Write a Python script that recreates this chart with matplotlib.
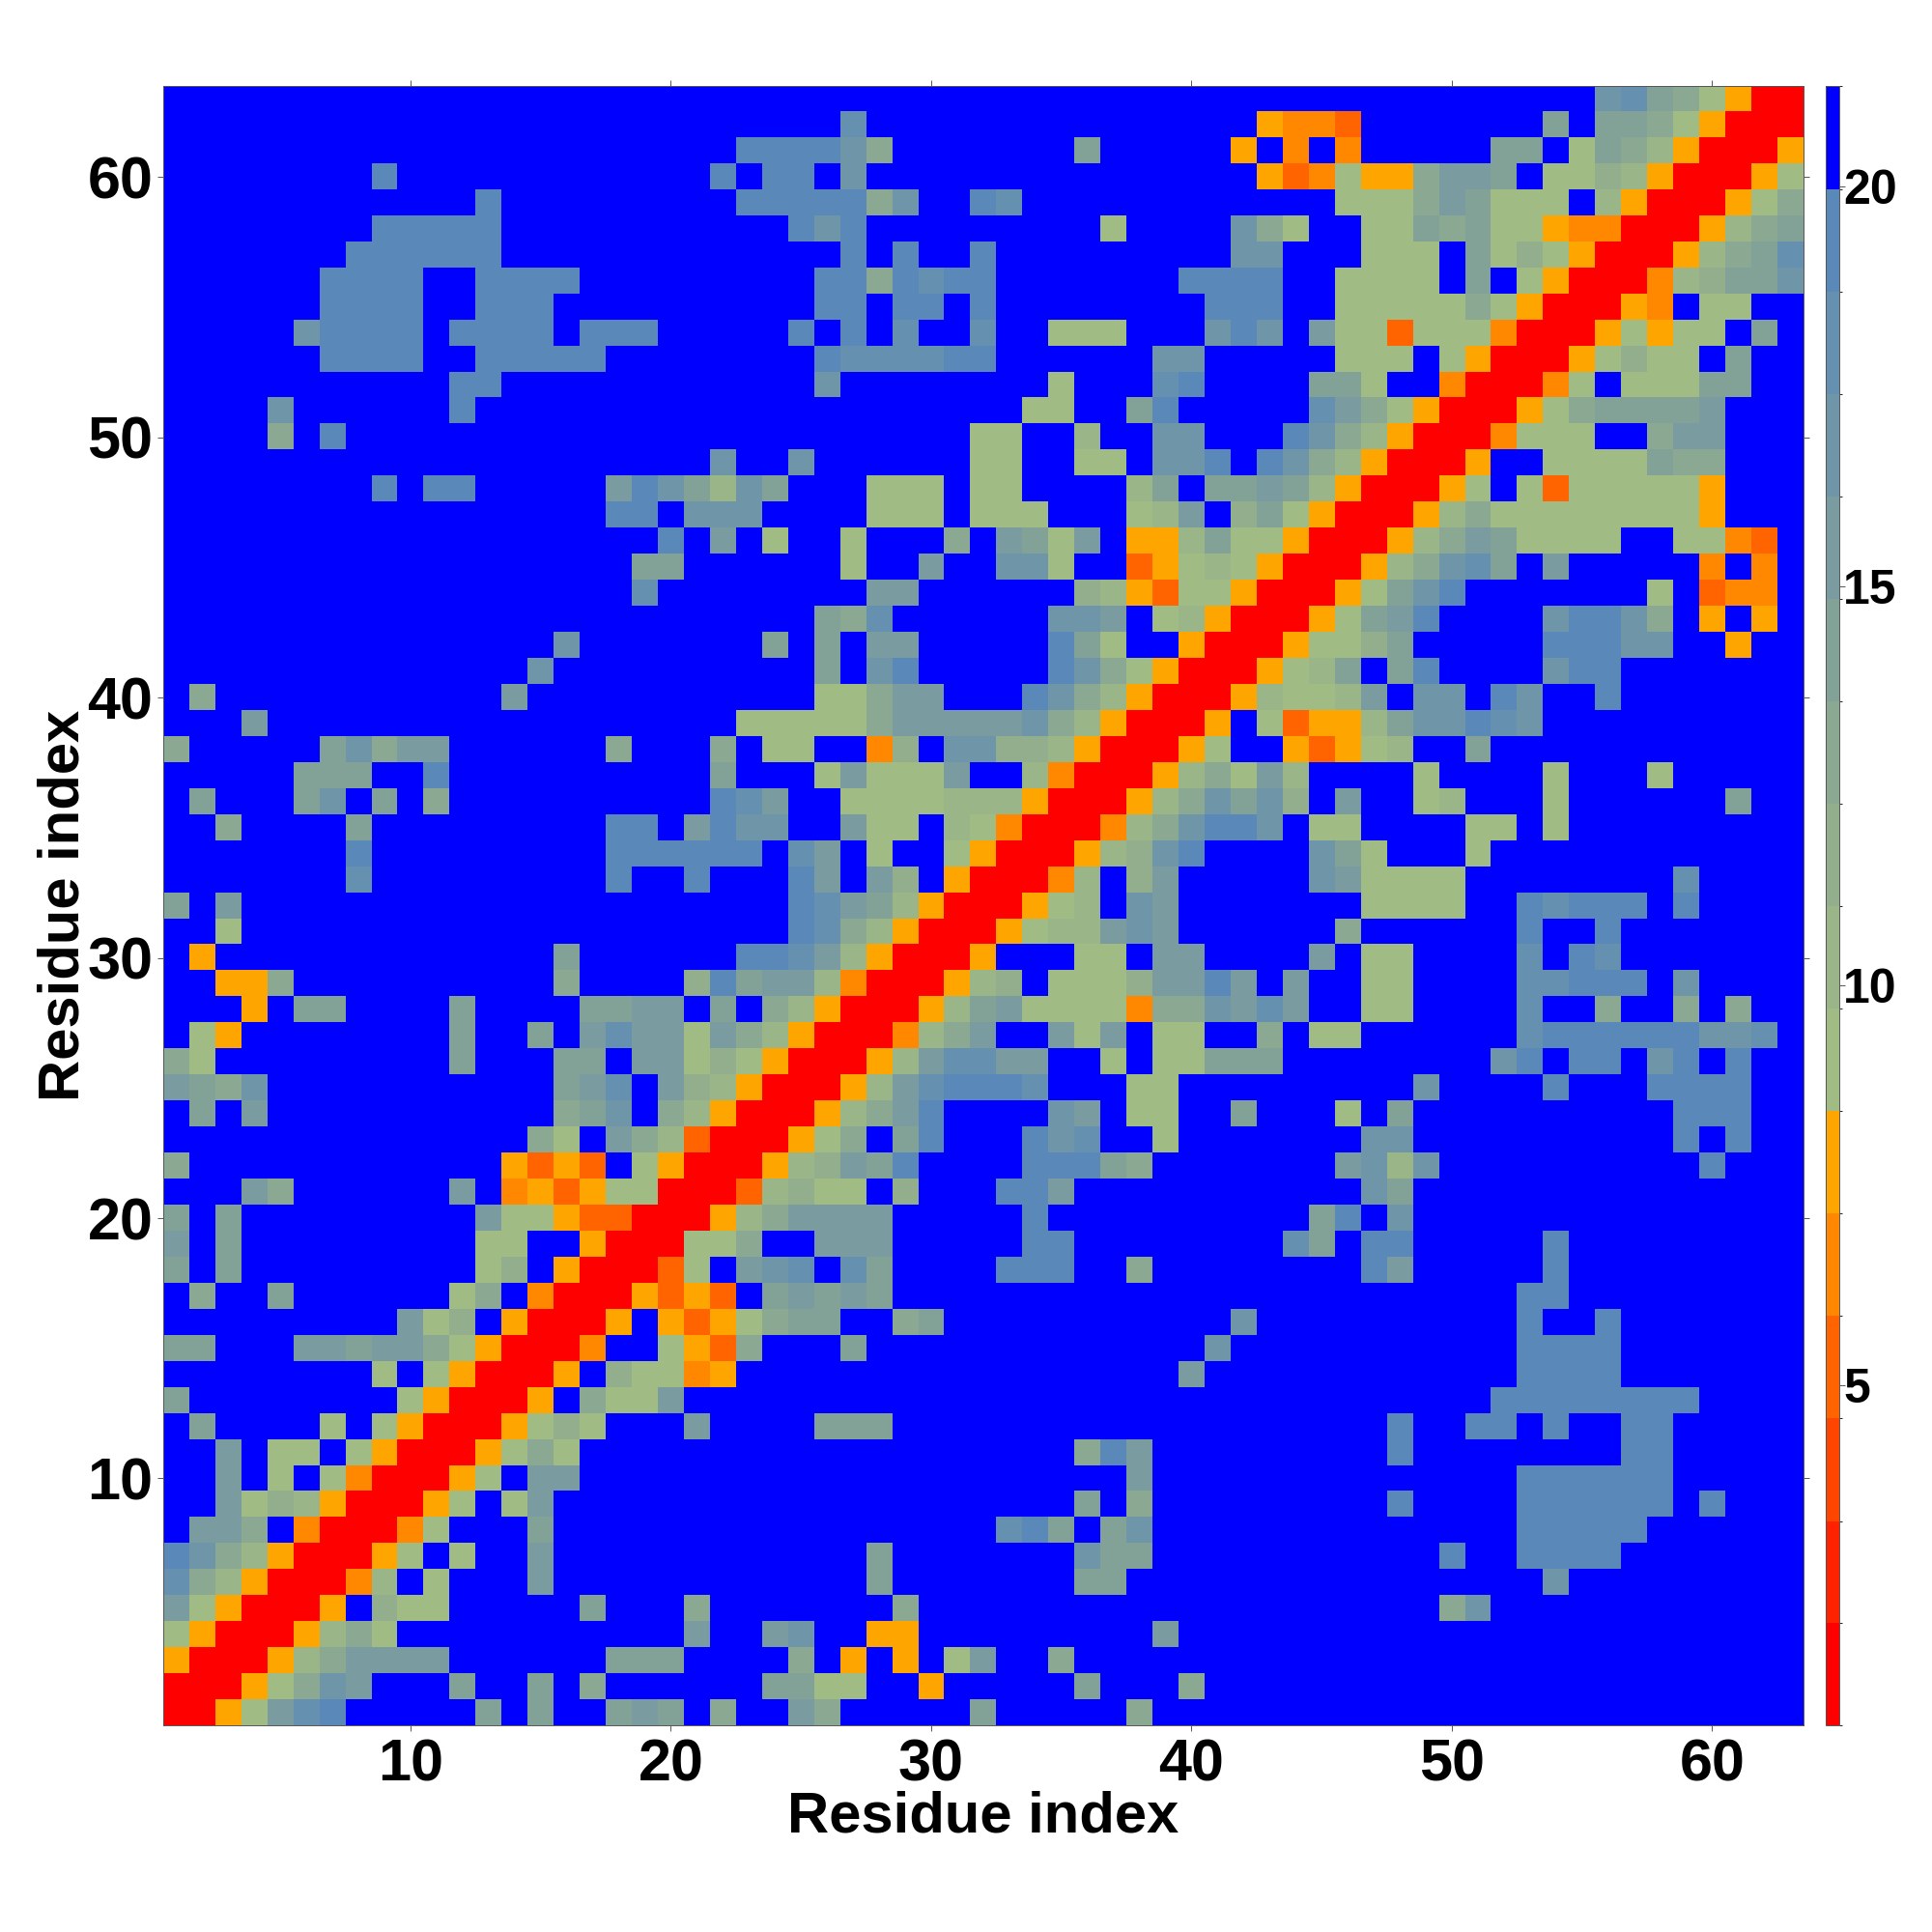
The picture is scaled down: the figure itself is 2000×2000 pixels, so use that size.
import numpy as np
import matplotlib
matplotlib.use("Agg")
import matplotlib.pyplot as plt
from matplotlib.colors import ListedColormap, BoundaryNorm

plt.rcParams['font.family'] = ['Liberation Sans', 'DejaVu Sans']
plt.rcParams['font.weight'] = 'bold'

# Distance bins of the colour scale (Angstrom-like units)
bin_edges = [0.74, 2.02, 3.30, 4.59, 5.87, 7.15, 8.43, 9.71, 11.0, 12.28,
             13.56, 14.84, 16.12, 17.41, 18.69, 19.97, 21.26]
bin_colors = ['#ff0000', '#ff2200', '#ff4600', '#ff6400', '#ff8800', '#ffa500',
              '#a0bb84', '#9ab588', '#92ae8c', '#8aa892', '#82a298', '#7a9ca0',
              '#6e96a8', '#6690b0', '#5a88b8', '#0000ff']
bin_keys = 'rfednoghijklmpq.'

x_ticks = [10, 20, 30, 40, 50, 60]
y_ticks = [10, 20, 30, 40, 50, 60]
cbar_ticks = [5, 10, 15, 20]
axis_label = 'Residue index'

# One string per residue y; characters are the bin of (x, y) for x = 1..y.
row_63 = "."*55+"mpkjgorr"
row_62 = "."*26+"p"+"."*15+"onnd"+"."*7+"k.kkjgorr"
row_61 = "."*22+"qqqq"+"mj"+"."*7+"k"+"."*5+"o.n.n"+"."*5+"kk.gkjhorr"
row_60 = "."*8+"q"+"."*12+"q.qq.m"+"."*15+"odng"+"oo"+"jllk.gg"+"ihorr"
row_59 = "."*12+"q"+"."*9+"qqqqq"+"jm..qp"+"."*12+"gggjlkggg.horr"
row_58 = "."*8+"qqqqq"+"."*11+"qmq"+"."*9+"g"+"."*4+"mjg..ggkjkggonnrr"
row_57 = "."*7+"qqqqqq"+"."*13+"q.q..q"+"."*9+"mm"+"..."+"ggg.kgigorr"
row_56 = "."*6+"qqqq..qqqq"+"."*9+"qqjqpqq"+"."*7+"qqqq"+".."+"gggg.k.gorr"
row_55 = "."*6+"qqqq..qqq"+"."*10+"qq.qq.q"+"."*8+"qqq"+".."+"gggggjgorr"
row_54 = "."*5+"m"+"qqqq.qqqq.qqq"+"."*5+"q.q.p..p..ggg"+"..."+"mqm.lggdgggnrr"
row_53 = "."*6+"qqqq..qqqqq"+"."*8+"qppppqq"+"."*6+"mm"+"."*5+"ggg.gorr"
row_52 = "."*11+"qq"+"."*12+"m"+"."*8+"g"+"..."+"pq"+"."*4+"kkg..nrr"
row_51 = "."*4+"m"+"."*6+"q"+"."*21+"gg..kq"+"."*5+"pljgorr"
row_50 = "."*4+"j.q"+"."*24+"gg..h..mm"+"..."+"qmjhorr"
row_49 = "."*21+"m..m"+"."*6+"gg..gg.mmq.q"+"mjhorr"
row_48 = "."*8+"q.qq"+"."*5+"lqmkhmk"+"..."+"ggg.gg"+"."*4+"hk.kklkhorr"
row_47 = "."*17+"qq.mmm"+"."*4+"ggg.ggg"+"..."+"ghl.ikgorr"
row_46 = "."*19+"q.l.g..g...j.lkgl.oohkggorr"
row_45 = "."*18+"kk"+"."*6+"g..l..mmg..doghgorr"
row_44 = "."*18+"p"+"."*8+"ll"+"."*6+"ihodggorr"
row_43 = "."*25+"kjp"+"."*6+"mml.ghorr"
row_42 = "."*15+"m"+"."*7+"k.k.ll"+"."*5+"qkg..orr"
row_41 = "."*14+"m"+"."*10+"k.mq"+"."*5+"qmjgorr"
row_40 = ".j"+"."*11+"l"+"."*11+"ggjll...qmjhorr"
row_39 = "...l"+"."*18+"gggggjlllllmjhorr"
row_38 = "j"+"."*5+"kmjll"+"."*6+"j...j.gg..ni.mmiihorr"
row_37 = "."*5+"kkk..q"+"."*10+"k...glgggl..hnrr"
row_36 = ".k...km.k.j"+"."*10+"qpl..gggghhhorr"
row_35 = "..j"+"...."+"k"+"."*9+"qq.lqmm..lgg.hgnrr"
row_34 = "."*7+"q"+"."*9+"qqqqqq.pl.g..gorr"
row_33 = "."*7+"p"+"."*9+"q..q...ql.li.orr"
row_32 = "k.l"+"."*21+"qplkhorr"
row_31 = "..g"+"."*21+"qpjhorr"
row_30 = ".o"+"."*13+"k"+"."*6+"qqplhorr"
row_29 = "..ooj"+"."*10+"j"+"...."+"iqkllhnrr"
row_28 = "...o.kk"+"...."+"k"+"...."+"kkll.k.jhorr"
row_27 = ".go"+"."*8+"k..k.lpllgljhorr"
row_26 = "jg"+"."*9+"k...kk.llgigorr"
row_25 = "lkjm"+"."*11+"klp.lihorr"
row_24 = ".k.l"+"."*11+"jkm.jhorr"
row_23 = "."*14+"jg.ljhdrr"
row_22 = "j"+"."*12+"odod.gorr"
row_21 = "...lj"+"."*6+"l.nodoggrr"
row_20 = "k.k"+"."*9+"lggoddrr"
row_19 = "l.k"+"."*9+"gg..orr"
row_18 = "k.k"+"."*9+"gi.orr"
row_17 = ".j..k"+"."*6+"gj.nrr"
row_16 = "."*9+"lgi.orr"
row_15 = "kk...llklljgorr"
row_14 = "."*8+"g.gorr"
row_13 = "k"+"."*8+"gorr"
row_12 = ".k....g.gorr"
row_11 = "..l.gg.gorr"
row_10 = "..l.g.gnrr"
row_9 = "..lgihorr"
row_8 = ".llj.nrr"
row_7 = "qmjhorr"
row_6 = "pjhorr"
row_5 = "lgorr"
row_4 = "gorr"
row_3 = "orr"
row_2 = "rr"
row_1 = "r"

rows = [globals()[f"row_{y}"] for y in range(1, 64)]
n = len(rows)
centers = [(bin_edges[i] + bin_edges[i + 1]) / 2 for i in range(16)]
value_of = dict(zip(bin_keys, centers))
dist = np.zeros((n, n))
for y, row in enumerate(rows):
    row = row[:y + 1]
    for x, ch in enumerate(row):
        dist[y, x] = dist[x, y] = value_of[ch]

W = H = 2000
fig = plt.figure(figsize=(20, 20), dpi=100, facecolor='white')
ax = fig.add_axes([168.8 / W, 1 - 1786.3 / H, 1698 / W, 1697.1 / H])
cax = fig.add_axes([1890 / W, 1 - 1786.3 / H, 13.5 / W, 1697.1 / H])

cmap = ListedColormap(bin_colors)
norm = BoundaryNorm(bin_edges, cmap.N)
im = ax.imshow(dist, origin='lower', cmap=cmap, norm=norm, aspect='auto',
               interpolation='nearest', extent=(0.5, n + 0.5, 0.5, n + 0.5))

ax.set_xticks(x_ticks)
ax.set_yticks(y_ticks)
ax.tick_params(axis='both', which='major', direction='out', length=4.5, width=0.7,
               color='#555555', top=True, right=True, labelsize=44)
ax.tick_params(axis='x', pad=5)
ax.tick_params(axis='y', pad=3)
for s in ax.spines.values():
    s.set_linewidth(0.7)
    s.set_color('#555555')

ax.set_xlabel(axis_label, fontsize=43, fontweight='bold')
ax.set_ylabel(axis_label, fontsize=43, fontweight='bold')
ax.xaxis.set_label_coords(0.5, -0.0395)
ax.yaxis.set_label_coords(-0.0445, 0.5)

cb = fig.colorbar(im, cax=cax, ticks=cbar_ticks, spacing='proportional', drawedges=False)
cb.ax.set_yticklabels([str(t) for t in cbar_ticks])
cb.ax.tick_params(length=4.5, width=0.7, color='#555555', labelsize=36, pad=-1)
cb.outline.set_linewidth(0.7)
cb.outline.set_edgecolor('#555555')

fig.savefig('out.png', dpi=100, facecolor='white')
